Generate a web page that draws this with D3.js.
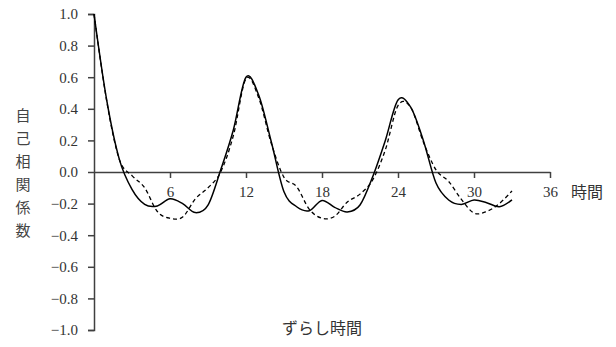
<!DOCTYPE html>
<html><head><meta charset="utf-8">
<script src="https://cdn.jsdelivr.net/npm/d3@7"></script>
<style>
html,body{margin:0;padding:0;background:#fff;}
svg{display:block;}
</style></head>
<body>
<svg id="chart" width="616" height="347"></svg>
<script>
// ---- data ----
const lags = d3.range(0, 34); // ずらし時間 0..33
const solidValues = [1.0, 0.456, 0.08, -0.11, -0.205, -0.215, -0.17, -0.2, -0.257, -0.209,
  0.013, 0.266, 0.60, 0.487, 0.19, -0.125, -0.22, -0.245, -0.18, -0.224,
  -0.253, -0.209, -0.03, 0.20, 0.456, 0.41, 0.20, -0.07, -0.177, -0.205,
  -0.177, -0.194, -0.22, -0.177];
const dashedValues = [1.0, 0.45, 0.08, -0.023, -0.10, -0.25, -0.293, -0.285, -0.17, -0.10,
  0.0, 0.23, 0.59, 0.47, 0.18, -0.034, -0.093, -0.236, -0.293, -0.28,
  -0.19, -0.14, -0.05, 0.14, 0.42, 0.41, 0.19, 0.013, -0.06, -0.173,
  -0.26, -0.25, -0.20, -0.12];
const xTicks = [6, 12, 18, 24, 30, 36];
const yTicks = [-1.0, -0.8, -0.6, -0.4, -0.2, 0.0, 0.2, 0.4, 0.6, 0.8, 1.0];
const yTitleChars = ["自", "己", "相", "関", "係", "数"];
const xTitle = "ずらし時間";
const xUnit = "時間";

// ---- layout ----
const svg = d3.select("#chart");
const x = d3.scaleLinear().domain([0, 36]).range([94, 550]);
const y = d3.scaleLinear().domain([-1, 1]).range([330, 14]);
const axisColor = "#404040";
const numStyle = "font-family:'Liberation Serif','DejaVu Serif',serif;font-size:15px";

// y axis
const yAxis = svg.append("g").attr("transform", `translate(${x(0)},0)`)
  .call(d3.axisLeft(y).tickValues(yTicks).tickSize(6).tickPadding(10)
    .tickFormat(d => (d < 0 ? "\u2212" : "") + Math.abs(d).toFixed(1)));
yAxis.select(".domain").attr("stroke", axisColor).attr("stroke-width", 1.5);
yAxis.selectAll(".tick line").attr("stroke", axisColor).attr("stroke-width", 1.5);
yAxis.selectAll(".tick text").attr("fill", "#333").attr("style", numStyle);

// x axis (at y=0)
const xAxis = svg.append("g").attr("transform", `translate(0,${y(0)})`)
  .call(d3.axisBottom(x).tickValues(xTicks).tickSize(6).tickPadding(8).tickSizeOuter(0));
xAxis.select(".domain").attr("stroke", axisColor).attr("stroke-width", 1.5);
xAxis.selectAll(".tick line").attr("stroke", axisColor).attr("stroke-width", 1.5);
xAxis.selectAll(".tick text").attr("fill", "#333").attr("style", numStyle);

// lines
const line = vals => d3.line().curve(d3.curveCardinal.tension(0))
  .x((d, i) => x(lags[i])).y(d => y(d))(vals);

svg.append("path").attr("d", line(dashedValues))
  .attr("fill", "none").attr("stroke", "#000").attr("stroke-width", 1.3)
  .attr("stroke-dasharray", "4,3");
svg.append("path").attr("d", line(solidValues))
  .attr("fill", "none").attr("stroke", "#000").attr("stroke-width", 1.5);

// titles
const jp = "Noto Sans CJK JP";
svg.append("text").attr("font-family", jp).attr("font-size", 16)
  .attr("x", 571).attr("y", y(0) + 26).attr("fill", "#333").text(xUnit);
svg.append("text").attr("font-family", jp).attr("font-size", 16)
  .attr("x", (x(0) + x(36)) / 2).attr("y", 334)
  .attr("text-anchor", "middle").attr("fill", "#333").text(xTitle);
svg.append("g").attr("font-family", jp).attr("font-size", 15)
  .selectAll("text").data(yTitleChars).join("text")
  .attr("x", 23).attr("y", (d, i) => 121 + i * 23)
  .attr("text-anchor", "middle").attr("fill", "#444").text(d => d);
</script>
</body></html>
